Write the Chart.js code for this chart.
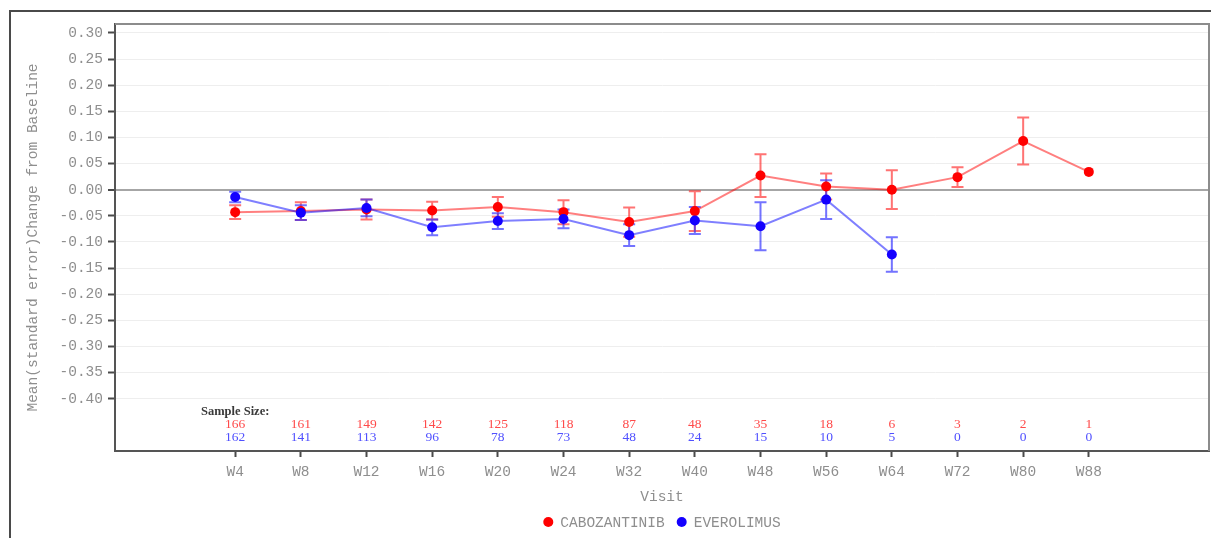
<!DOCTYPE html>
<html>
<head>
<meta charset="utf-8">
<script src="https://cdn.jsdelivr.net/npm/chart.js@4"></script>
<style>
  html, body { margin: 0; padding: 0; background: #ffffff; }
  canvas { display: block; }
</style>
</head>
<body>
<canvas id="chart" width="1211" height="538"></canvas>
<script>
// Visits along the x axis
const VISITS = ['W4', 'W8', 'W12', 'W16', 'W20', 'W24', 'W32', 'W40', 'W48', 'W56', 'W64', 'W72', 'W80', 'W88'];

// Mean change from baseline and standard error, per arm
const CABO_MEAN = [-0.043, -0.041, -0.038, -0.040, -0.033, -0.043, -0.062, -0.041, 0.027, 0.006, 0.000, 0.024, 0.093, 0.034];
const CABO_SE   = [0.013, 0.017, 0.019, 0.017, 0.019, 0.023, 0.028, 0.038, 0.041, 0.025, 0.037, 0.019, 0.045, null];
const EVE_MEAN  = [-0.014, -0.044, -0.035, -0.072, -0.060, -0.056, -0.087, -0.059, -0.070, -0.019, -0.124, null, null, null];
const EVE_SE    = [0.010, 0.014, 0.016, 0.015, 0.015, 0.018, 0.021, 0.026, 0.046, 0.037, 0.033, null, null, null];

// Patients contributing at each visit
const CABO_N = [166, 161, 149, 142, 125, 118, 87, 48, 35, 18, 6, 3, 2, 1];
const EVE_N  = [162, 141, 113, 96, 78, 73, 48, 24, 15, 10, 5, 0, 0, 0];

// Labelled y ticks
const Y_TICKS = [-0.40, -0.35, -0.30, -0.25, -0.20, -0.15, -0.10, -0.05, 0.00, 0.05, 0.10, 0.15, 0.20, 0.25, 0.30];

const SERIES_NAMES = ['CABOZANTINIB', 'EVEROLIMUS'];

const MONO = '"Liberation Mono", "DejaVu Sans Mono", monospace';
const SERIF = '"Liberation Serif", "DejaVu Serif", serif';
const GREY_TEXT = '#8e8e8e';
const RED = '#ff0000';
const BLUE = '#1400ff';

const toPoints = arr => arr.map((v, i) => ({ x: i, y: v }));

// Error bars, drawn under lines and markers
const errorBars = {
  id: 'errorBars',
  beforeDatasetsDraw(chart) {
    const { ctx, scales: { x, y } } = chart;
    const sets = [
      { mean: CABO_MEAN, se: CABO_SE, color: 'rgba(255,40,40,0.65)' },
      { mean: EVE_MEAN, se: EVE_SE, color: 'rgba(40,40,255,0.65)' }
    ];
    ctx.save();
    ctx.lineWidth = 2;
    sets.forEach(s => {
      ctx.strokeStyle = s.color;
      s.mean.forEach((m, i) => {
        if (m === null || s.se[i] === null) return;
        const px = x.getPixelForValue(i);
        const top = y.getPixelForValue(m + s.se[i]);
        const bot = y.getPixelForValue(m - s.se[i]);
        ctx.beginPath();
        ctx.moveTo(px, top); ctx.lineTo(px, bot);
        ctx.moveTo(px - 6, top); ctx.lineTo(px + 6, top);
        ctx.moveTo(px - 6, bot); ctx.lineTo(px + 6, bot);
        ctx.stroke();
      });
    });
    ctx.restore();
  }
};

// Outer frame, plot border, sample-size table and legend
const decorations = {
  id: 'decorations',
  beforeDraw(chart) {
    const { ctx } = chart;
    ctx.save();
    ctx.strokeStyle = '#4a4a4a';
    ctx.lineWidth = 2;
    ctx.beginPath();
    ctx.moveTo(10, 538);
    ctx.lineTo(10, 11);
    ctx.lineTo(1211, 11);
    ctx.stroke();
    ctx.restore();
  },
  afterDraw(chart) {
    const { ctx, chartArea: a, scales: { x, y } } = chart;
    ctx.save();
    // top and right edges of the plot box
    ctx.strokeStyle = '#8c8c8c';
    ctx.lineWidth = 2;
    ctx.beginPath();
    ctx.moveTo(a.left, a.top);
    ctx.lineTo(a.right, a.top);
    ctx.lineTo(a.right, a.bottom);
    ctx.stroke();

    // sample sizes
    ctx.textAlign = 'center';
    ctx.textBaseline = 'middle';
    ctx.font = 'bold 12.5px ' + SERIF;
    ctx.fillStyle = '#3a3a3a';
    ctx.fillText('Sample Size:', x.getPixelForValue(0), y.getPixelForValue(-0.424));
    ctx.font = '13.5px ' + SERIF;
    CABO_N.forEach((n, i) => {
      ctx.fillStyle = '#ff4a4a';
      ctx.fillText(String(n), x.getPixelForValue(i), y.getPixelForValue(-0.450));
    });
    EVE_N.forEach((n, i) => {
      ctx.fillStyle = '#5050ff';
      ctx.fillText(String(n), x.getPixelForValue(i), y.getPixelForValue(-0.475));
    });

    // legend
    ctx.font = '14.5px ' + MONO;
    ctx.textAlign = 'left';
    const r = 5, gapDot = 7, gapItem = 12;
    const colors = [RED, BLUE];
    const widths = SERIES_NAMES.map(t => ctx.measureText(t).width);
    const total = widths.reduce((s, w) => s + 2 * r + gapDot + w, 0) + gapItem;
    let cx = (a.left + a.right) / 2 - total / 2;
    const ly = 522;
    SERIES_NAMES.forEach((t, i) => {
      ctx.fillStyle = colors[i];
      ctx.beginPath();
      ctx.arc(cx + r, ly, r, 0, Math.PI * 2);
      ctx.fill();
      cx += 2 * r + gapDot;
      ctx.fillStyle = GREY_TEXT;
      ctx.fillText(t, cx, ly + 1);
      cx += widths[i] + gapItem;
    });
    ctx.restore();
  }
};

new Chart(document.getElementById('chart'), {
  type: 'line',
  data: {
    datasets: [
      {
        label: SERIES_NAMES[0],
        data: toPoints(CABO_MEAN),
        borderColor: 'rgba(255,0,0,0.5)',
        borderWidth: 2,
        backgroundColor: RED,
        pointBackgroundColor: RED,
        pointBorderColor: RED,
        pointRadius: 5,
        pointBorderWidth: 0,
        tension: 0,
        order: 2
      },
      {
        label: SERIES_NAMES[1],
        data: toPoints(EVE_MEAN),
        borderColor: 'rgba(0,0,255,0.5)',
        borderWidth: 2,
        backgroundColor: BLUE,
        pointBackgroundColor: BLUE,
        pointBorderColor: BLUE,
        pointRadius: 5,
        pointBorderWidth: 0,
        tension: 0,
        order: 1
      }
    ]
  },
  options: {
    responsive: false,
    animation: false,
    devicePixelRatio: 1,
    layout: { autoPadding: false, padding: { left: 0, top: 24, right: 2, bottom: 0 } },
    plugins: {
      legend: { display: false },
      tooltip: { enabled: false }
    },
    scales: {
      x: {
        type: 'linear',
        min: -1.83,
        max: 14.83,
        afterBuildTicks: s => { s.ticks = VISITS.map((_, i) => ({ value: i })); },
        afterFit: s => { s.height = 87; s.paddingLeft = 0; s.paddingRight = 0; },
        ticks: {
          callback: v => VISITS[v],
          font: { family: MONO, size: 14.5 },
          color: GREY_TEXT,
          padding: 6,
          maxRotation: 0,
          autoSkip: false
        },
        grid: {
          drawOnChartArea: false,
          drawTicks: true,
          tickLength: 6,
          tickColor: '#4a4a4a',
          tickWidth: 2
        },
        border: { color: '#555555', width: 2 },
        title: {
          display: true,
          text: 'Visit',
          font: { family: MONO, size: 14.5 },
          color: GREY_TEXT,
          padding: { top: 0, bottom: 32 }
        }
      },
      y: {
        min: -0.5,
        max: 0.317,
        afterBuildTicks: s => { s.ticks = Y_TICKS.map(v => ({ value: v })); },
        afterFit: s => { s.width = 115; },
        ticks: {
          callback: v => v.toFixed(2),
          font: { family: MONO, size: 14.5 },
          color: GREY_TEXT,
          padding: 5
        },
        grid: {
          color: c => (Math.abs(c.tick.value) < 1e-9 ? '#a6a6a6' : '#eeeeee'),
          lineWidth: c => (Math.abs(c.tick.value) < 1e-9 ? 2 : 1),
          tickLength: 7,
          tickColor: '#4a4a4a',
          tickWidth: 2
        },
        border: { color: '#555555', width: 2 },
        title: {
          display: true,
          text: 'Mean(standard error)Change from Baseline',
          font: { family: MONO, size: 14.5 },
          color: GREY_TEXT,
          padding: { top: 24, bottom: 0 }
        }
      }
    }
  },
  plugins: [errorBars, decorations]
});
</script>
</body>
</html>
